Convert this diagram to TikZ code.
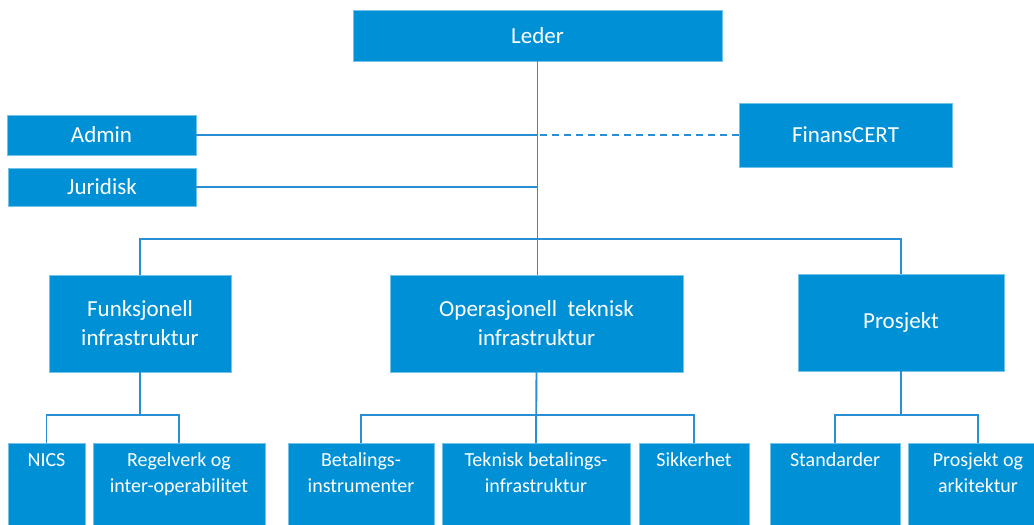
\documentclass[tikz,border=0pt]{standalone}
\usepackage{fontspec}
\setmainfont{Carlito}
\definecolor{OrgBlue}{HTML}{0090D5}
\definecolor{OrgLine}{HTML}{2A8ED4}
\usetikzlibrary{calc,positioning}
\tikzset{
	unit/.style={fill=OrgBlue, draw=OrgBlue!55!white, line width=0.5pt, text=white, align=center, inner sep=0pt, font=\fontsize{23}{29}\selectfont},
	subunit/.style={fill=OrgBlue, draw=OrgBlue!55!white, line width=0.5pt, text=white, anchor=north, inner xsep=0pt, inner ysep=5pt, font=\fontsize{20}{26}\selectfont},
	link/.style={draw=OrgLine, line width=1.9pt},
}
\newcommand{\subtext}[2]{\parbox[t][90pt][t]{#1}{\centering\strut #2}}

\begin{document}
\begin{tikzpicture}[x=1pt, y=-1pt]
		\useasboundingbox (0,0) rectangle (1034,525);
		\clip (0,0) rectangle (1034,525);
		% top level
		\node[unit, minimum width=369pt, minimum height=51pt] (leder) at (537.5,35.5) {\raisebox{-1.5pt}{Leder}};
		\node[unit, minimum width=189pt, minimum height=40pt] (admin) at (101.5,135) {Admin};
		\node[unit, minimum width=188pt, minimum height=38pt] (jur) at (102,187) {Juridisk};
		\node[unit, minimum width=213pt, minimum height=64pt] (cert) at (845.5,135) {FinansCERT};
		% departments
		\node[unit, minimum width=182pt, minimum height=97pt] (funk) at (140,323.5) {Funksjonell\\infrastruktur};
		\node[unit, minimum width=293pt, minimum height=97pt] (oper) at (536.5,323.5) {Operasjonell\ \ teknisk\\infrastruktur};
		\node[unit, minimum width=206pt, minimum height=97pt] (prosj) at (901,322.5) {\raisebox{-2pt}{Prosjekt}};
		% sections
		\node[subunit] (nics) at (46.5,443) {\subtext{77pt}{NICS}};
		\node[subunit] (regel) at (179,443) {\subtext{172pt}{Regelverk og\\inter-operabilitet}};
		\node[subunit] (betal) at (361,443) {\subtext{146pt}{Betalings-\\instrumenter}};
		\node[subunit] (tekn) at (536,443) {\subtext{188pt}{Teknisk betalings-\\infrastruktur}};
		\node[subunit] (sikk) at (694,443) {\subtext{110pt}{Sikkerhet}};
		\node[subunit] (stand) at (835,443) {\subtext{130pt}{Standarder}};
		\node[subunit] (arkit) at (978,443) {\subtext{140pt}{Prosjekt og\\arkitektur}};
		% lines
		\coordinate (topbus) at (537,239);
		\draw[link] (leder.south) -- (leder.south |- oper.north);
		\draw[link] (admin.east) -- (admin.east -| leder.south);
		\draw[link] (jur.east) -- (jur.east -| leder.south);
		\draw[link, dash pattern=on 7pt off 5pt] (cert.west) -- (cert.west -| leder.south);
		\draw[link] (funk.north) |- (topbus) -| (prosj.north);
		\draw[link] (funk.south) -- ++(0,42.5) coordinate (subbus);
		\draw[link] (nics.north) |- (subbus) -| (regel.north);
		\draw[link] (oper.south) -- (tekn.north);
		\draw[link] (betal.north) |- (tekn.north |- subbus) -| (sikk.north);
		\draw[link] (prosj.south) -- (prosj.south |- subbus);
		\draw[link] (stand.north) |- (prosj.south |- subbus) -| (arkit.north);
	\end{tikzpicture}
\end{document}
